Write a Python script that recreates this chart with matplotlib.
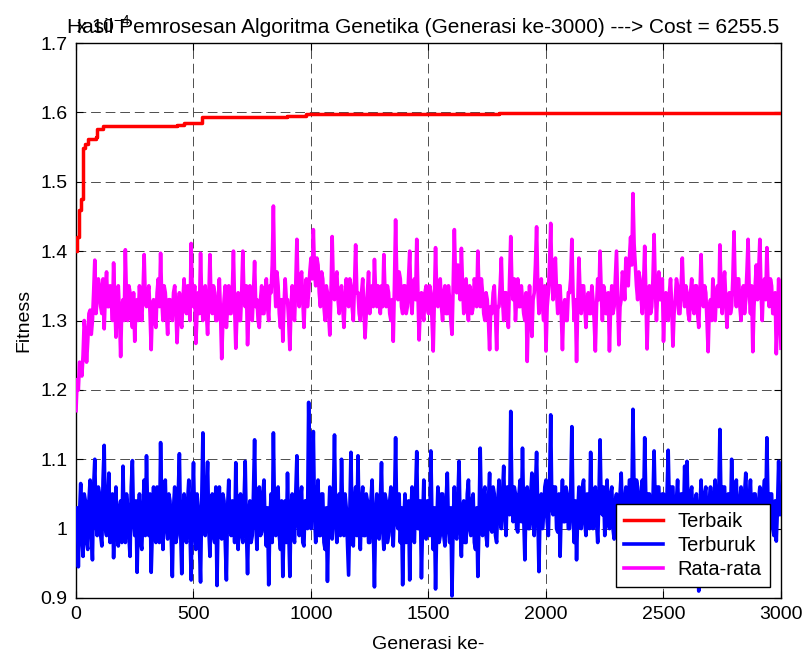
import matplotlib
matplotlib.use("Agg")
import matplotlib.pyplot as plt
import numpy as np

plt.rcParams["font.family"] = ["Liberation Sans", "DejaVu Sans"]
plt.rcParams["mathtext.default"] = "regular"

# Fitness values are in units of 1e-4
terbaik_gen = [0, 5, 12, 20, 30, 40, 50, 85, 90, 116, 430, 460, 535, 620, 900, 980, 1800, 3000]
terbaik = [1.400, 1.420, 1.460, 1.475, 1.548, 1.555, 1.561, 1.565, 1.576, 1.580,
           1.5815, 1.5845, 1.5935, 1.594, 1.595, 1.597, 1.5986, 1.5986]

# worst and average fitness, read every 5 generations (0..3000), one row = 100 generations
terburuk = [
    1.00, 1.03, 0.945, 1.02, 1.065, 0.99, 0.96, 1.05, 1.04, 0.98, 0.97, 1.04, 1.07, 1.00, 0.955, 1.06, 1.10, 1.01, 0.99, 1.06,
    1.05, 0.99, 0.975, 1.07, 1.12, 1.00, 0.99, 1.04, 1.08, 0.98, 1.00, 1.05, 0.958, 1.02, 1.06, 0.99, 0.975, 1.03, 1.04, 0.98,
    1.09, 1.00, 0.98, 1.05, 1.03, 0.99, 0.96, 1.06, 1.098, 1.01, 0.99, 1.04, 0.937, 1.02, 1.05, 0.98, 0.97, 1.03, 1.07, 0.99,
    1.105, 1.02, 0.99, 1.05, 0.937, 1.00, 1.06, 0.99, 0.98, 1.06, 1.03, 0.98, 1.124, 1.03, 0.97, 1.04, 1.07, 1.00, 0.985, 1.05,
    1.04, 0.99, 0.931, 1.03, 1.06, 0.98, 0.99, 1.05, 1.108, 1.00, 0.935, 1.02, 1.05, 0.99, 0.98, 1.04, 1.07, 1.00, 0.926, 1.03,
    1.095, 1.00, 0.97, 1.05, 1.03, 0.98, 0.923, 1.04, 1.138, 1.01, 0.99, 1.05, 1.096, 1.00, 0.96, 1.03, 1.05, 0.99, 0.98, 1.06,
    0.918, 1.02, 1.06, 0.99, 0.985, 1.05, 1.04, 0.98, 0.926, 1.03, 1.07, 1.00, 0.99, 1.04, 1.03, 0.98, 1.095, 1.01, 0.97, 1.04,
    1.05, 0.99, 0.98, 1.04, 1.097, 1.00, 0.935, 1.02, 1.04, 0.98, 0.99, 1.05, 1.128, 1.01, 0.97, 1.03, 1.06, 0.99, 0.995, 1.05,
    1.07, 1.00, 0.975, 1.03, 0.919, 1.01, 1.05, 0.98, 1.138, 1.02, 0.99, 1.05, 1.06, 0.99, 0.97, 1.04, 0.931, 1.00, 1.04, 0.98,
    1.08, 1.00, 0.931, 1.03, 1.05, 0.99, 0.98, 1.05, 1.105, 1.01, 0.99, 1.04, 1.06, 0.98, 0.975, 1.04, 1.04, 1.00, 1.182, 1.05,
    1.00, 1.06, 1.14, 1.02, 0.98, 1.04, 1.07, 0.99, 0.99, 1.05, 1.05, 0.98, 0.97, 1.03, 0.924, 1.01, 1.06, 0.99, 0.985, 1.04,
    1.135, 1.01, 0.98, 1.04, 1.05, 0.99, 1.10, 1.02, 0.99, 1.05, 1.03, 0.98, 0.933, 1.02, 1.11, 1.00, 0.975, 1.04, 1.06, 0.99,
    1.105, 1.00, 0.97, 1.04, 1.06, 0.99, 0.99, 1.05, 1.04, 0.98, 0.98, 1.04, 1.07, 1.00, 0.916, 1.02, 1.05, 0.99, 0.985, 1.04,
    1.095, 1.00, 0.97, 1.05, 1.04, 0.98, 0.99, 1.04, 1.06, 1.00, 0.975, 1.03, 1.131, 1.01, 1.00, 1.05, 0.98, 1.03, 0.919, 1.01,
    1.05, 0.98, 0.99, 1.04, 0.926, 1.02, 1.06, 0.99, 0.98, 1.05, 1.111, 1.00, 1.00, 1.04, 0.929, 1.01, 1.07, 0.99, 0.985, 1.04,
    1.04, 0.99, 1.112, 1.01, 0.97, 1.03, 0.913, 1.00, 1.06, 0.98, 0.99, 1.05, 1.05, 0.99, 0.975, 1.04, 1.08, 1.00, 0.98, 1.03,
    0.903, 1.01, 1.06, 0.99, 0.985, 1.04, 1.097, 1.00, 0.96, 1.03, 1.04, 0.98, 0.98, 1.05, 1.07, 1.00, 0.99, 1.04, 1.05, 0.98,
    0.97, 1.03, 0.931, 1.01, 1.116, 1.02, 0.99, 1.05, 1.06, 0.99, 0.975, 1.04, 1.08, 1.00, 0.995, 1.06, 1.05, 0.99, 0.98, 1.04,
    1.07, 1.01, 1.00, 1.05, 1.09, 1.02, 0.99, 1.06, 1.06, 1.02, 1.169, 1.04, 1.01, 1.06, 1.05, 1.00, 0.995, 1.05, 1.07, 1.01,
    1.116, 1.02, 0.955, 1.04, 1.06, 1.00, 1.00, 1.05, 1.08, 1.01, 0.99, 1.06, 1.11, 1.02, 0.938, 1.03, 1.05, 1.00, 1.02, 1.06,
    1.07, 1.01, 0.99, 1.06, 1.164, 1.03, 1.02, 1.06, 1.06, 1.00, 0.995, 1.05, 0.96, 1.03, 1.07, 1.01, 1.01, 1.06, 1.05, 1.00,
    1.00, 1.05, 1.147, 1.02, 0.98, 1.04, 0.955, 1.02, 1.06, 1.01, 1.00, 1.06, 1.07, 1.01, 0.99, 1.05, 1.04, 1.00, 1.11, 1.03,
    1.00, 1.05, 1.06, 1.01, 0.98, 1.04, 1.128, 1.03, 1.02, 1.06, 0.99, 1.04, 1.07, 1.01, 1.00, 1.05, 1.06, 1.00, 0.985, 1.04,
    1.05, 1.01, 1.00, 1.05, 1.08, 1.02, 0.99, 1.04, 1.06, 1.01, 1.02, 1.07, 1.07, 1.03, 1.172, 1.05, 1.03, 1.07, 1.06, 1.01,
    1.01, 1.05, 1.07, 1.02, 1.131, 1.04, 1.00, 1.05, 1.05, 1.01, 0.99, 1.04, 1.112, 1.03, 1.01, 1.06, 1.06, 1.01, 0.99, 1.05,
    1.05, 1.01, 1.00, 1.05, 1.113, 1.03, 1.02, 1.06, 1.06, 1.00, 0.985, 1.04, 1.07, 1.02, 1.00, 1.05, 1.05, 1.01, 1.09, 1.03,
    1.097, 1.02, 1.00, 1.05, 1.06, 1.01, 0.99, 1.04, 1.05, 1.00, 0.91, 1.03, 1.07, 1.01, 1.00, 1.05, 1.06, 1.01, 0.99, 1.04,
    1.06, 1.01, 1.00, 1.05, 1.07, 1.02, 0.99, 1.04, 1.143, 1.03, 1.02, 1.06, 1.06, 1.00, 0.995, 1.05, 1.05, 1.01, 1.10, 1.03,
    1.00, 1.05, 1.07, 1.01, 0.99, 1.04, 1.06, 1.01, 1.01, 1.05, 1.08, 1.02, 0.98, 1.04, 1.07, 1.01, 1.00, 1.05, 1.05, 1.00,
    0.99, 1.04, 1.06, 1.01, 1.01, 1.05, 1.07, 1.02, 1.131, 1.03, 1.00, 1.05, 1.05, 1.00, 0.99, 1.04, 0.982, 1.03, 1.097, 1.02,
    1.04,
]

rata_rata = [
    1.17, 1.215, 1.20, 1.24, 1.235, 1.22, 1.25, 1.30, 1.28, 1.24, 1.27, 1.31, 1.315, 1.28, 1.30, 1.34, 1.387, 1.31, 1.33, 1.36,
    1.35, 1.32, 1.31, 1.36, 1.288, 1.34, 1.37, 1.32, 1.32, 1.35, 1.34, 1.30, 1.383, 1.33, 1.276, 1.33, 1.35, 1.31, 1.248, 1.32,
    1.33, 1.30, 1.402, 1.33, 1.30, 1.35, 1.34, 1.31, 1.29, 1.34, 1.27, 1.32, 1.33, 1.30, 1.35, 1.32, 1.30, 1.34, 1.395, 1.33,
    1.32, 1.34, 1.35, 1.31, 1.258, 1.32, 1.33, 1.30, 1.29, 1.34, 1.36, 1.32, 1.397, 1.33, 1.30, 1.35, 1.34, 1.31, 1.28, 1.33,
    1.33, 1.31, 1.30, 1.34, 1.35, 1.32, 1.268, 1.31, 1.34, 1.30, 1.29, 1.33, 1.36, 1.32, 1.31, 1.35, 1.33, 1.30, 1.411, 1.34,
    1.32, 1.35, 1.267, 1.31, 1.34, 1.31, 1.397, 1.33, 1.30, 1.34, 1.35, 1.31, 1.28, 1.33, 1.395, 1.32, 1.31, 1.35, 1.34, 1.30,
    1.30, 1.33, 1.36, 1.31, 1.245, 1.30, 1.33, 1.35, 1.29, 1.32, 1.35, 1.31, 1.31, 1.34, 1.40, 1.32, 1.26, 1.31, 1.34, 1.30,
    1.30, 1.34, 1.40, 1.33, 1.32, 1.35, 1.265, 1.31, 1.35, 1.32, 1.30, 1.34, 1.385, 1.32, 1.33, 1.30, 1.29, 1.33, 1.35, 1.31,
    1.31, 1.34, 1.36, 1.32, 1.30, 1.35, 1.34, 1.38, 1.465, 1.36, 1.32, 1.37, 1.35, 1.31, 1.29, 1.33, 1.27, 1.32, 1.36, 1.33,
    1.33, 1.30, 1.258, 1.32, 1.35, 1.31, 1.30, 1.35, 1.417, 1.34, 1.32, 1.36, 1.37, 1.33, 1.29, 1.34, 1.36, 1.32, 1.34, 1.37,
    1.39, 1.36, 1.431, 1.37, 1.35, 1.39, 1.38, 1.34, 1.32, 1.37, 1.36, 1.32, 1.30, 1.35, 1.34, 1.31, 1.279, 1.34, 1.421, 1.35,
    1.33, 1.36, 1.37, 1.33, 1.31, 1.34, 1.35, 1.32, 1.29, 1.33, 1.36, 1.33, 1.32, 1.36, 1.35, 1.32, 1.30, 1.35, 1.409, 1.34,
    1.34, 1.31, 1.30, 1.34, 1.36, 1.32, 1.275, 1.31, 1.34, 1.37, 1.31, 1.34, 1.35, 1.32, 1.388, 1.34, 1.32, 1.35, 1.33, 1.31,
    1.35, 1.32, 1.395, 1.34, 1.32, 1.35, 1.34, 1.31, 1.30, 1.33, 1.27, 1.35, 1.445, 1.36, 1.33, 1.37, 1.36, 1.32, 1.31, 1.35,
    1.35, 1.31, 1.32, 1.36, 1.40, 1.33, 1.31, 1.35, 1.36, 1.33, 1.417, 1.34, 1.272, 1.32, 1.34, 1.31, 1.30, 1.34, 1.35, 1.32,
    1.31, 1.35, 1.34, 1.30, 1.256, 1.33, 1.405, 1.34, 1.32, 1.35, 1.36, 1.32, 1.30, 1.34, 1.35, 1.31, 1.31, 1.35, 1.33, 1.30,
    1.28, 1.35, 1.431, 1.36, 1.34, 1.38, 1.37, 1.33, 1.404, 1.35, 1.31, 1.34, 1.36, 1.32, 1.30, 1.35, 1.34, 1.31, 1.32, 1.36,
    1.35, 1.32, 1.40, 1.34, 1.32, 1.36, 1.34, 1.31, 1.30, 1.34, 1.33, 1.30, 1.258, 1.32, 1.31, 1.34, 1.35, 1.31, 1.258, 1.32,
    1.32, 1.35, 1.39, 1.33, 1.30, 1.34, 1.34, 1.31, 1.29, 1.36, 1.421, 1.35, 1.33, 1.36, 1.30, 1.33, 1.36, 1.32, 1.32, 1.35,
    1.33, 1.31, 1.30, 1.34, 1.241, 1.31, 1.35, 1.31, 1.277, 1.33, 1.34, 1.38, 1.435, 1.35, 1.31, 1.34, 1.36, 1.32, 1.30, 1.35,
    1.256, 1.32, 1.34, 1.38, 1.44, 1.36, 1.33, 1.37, 1.39, 1.34, 1.31, 1.35, 1.35, 1.31, 1.258, 1.32, 1.33, 1.30, 1.30, 1.34,
    1.34, 1.36, 1.417, 1.34, 1.30, 1.33, 1.241, 1.32, 1.39, 1.34, 1.31, 1.35, 1.35, 1.32, 1.29, 1.33, 1.34, 1.31, 1.31, 1.35,
    1.33, 1.30, 1.256, 1.32, 1.36, 1.33, 1.40, 1.34, 1.30, 1.35, 1.34, 1.31, 1.31, 1.34, 1.256, 1.32, 1.35, 1.31, 1.32, 1.36,
    1.40, 1.33, 1.265, 1.32, 1.33, 1.37, 1.36, 1.33, 1.39, 1.36, 1.35, 1.39, 1.42, 1.38, 1.483, 1.41, 1.38, 1.35, 1.33, 1.37,
    1.36, 1.33, 1.31, 1.35, 1.407, 1.34, 1.259, 1.32, 1.35, 1.31, 1.32, 1.36, 1.424, 1.35, 1.30, 1.34, 1.37, 1.33, 1.33, 1.36,
    1.27, 1.32, 1.34, 1.31, 1.30, 1.34, 1.36, 1.32, 1.263, 1.31, 1.33, 1.36, 1.35, 1.31, 1.31, 1.35, 1.39, 1.34, 1.32, 1.35,
    1.34, 1.31, 1.30, 1.34, 1.36, 1.32, 1.31, 1.35, 1.35, 1.31, 1.29, 1.34, 1.395, 1.33, 1.32, 1.35, 1.34, 1.30, 1.255, 1.32,
    1.33, 1.30, 1.36, 1.33, 1.30, 1.34, 1.35, 1.32, 1.409, 1.34, 1.31, 1.35, 1.37, 1.33, 1.29, 1.33, 1.34, 1.31, 1.32, 1.36,
    1.428, 1.35, 1.32, 1.36, 1.36, 1.32, 1.30, 1.34, 1.35, 1.31, 1.33, 1.37, 1.417, 1.34, 1.31, 1.35, 1.255, 1.32, 1.35, 1.38,
    1.33, 1.37, 1.417, 1.34, 1.30, 1.35, 1.36, 1.33, 1.405, 1.35, 1.32, 1.36, 1.35, 1.31, 1.31, 1.34, 1.252, 1.30, 1.36, 1.32,
    1.26,
]

generasi = np.arange(len(terburuk)) * 5

x_ticks = [0, 500, 1000, 1500, 2000, 2500, 3000]
y_ticks = [0.9, 1.0, 1.1, 1.2, 1.3, 1.4, 1.5, 1.6, 1.7]
y_labels = ["0.9", "1", "1.1", "1.2", "1.3", "1.4", "1.5", "1.6", "1.7"]

judul = "Hasil Pemrosesan Algoritma Genetika (Generasi ke-3000) ---> Cost = 6255.5"

fs = 14
fig = plt.figure(figsize=(8.04, 6.54), dpi=100)
ax = fig.add_axes([76 / 804, 1 - 598 / 654, 705 / 804, 555 / 654])

ax.plot(terbaik_gen, terbaik, color="#ff0000", lw=2.5, drawstyle="steps-post", label="Terbaik", zorder=3)
ax.plot(generasi, terburuk, color="#0000ff", lw=2.6, label="Terburuk", zorder=3)
ax.plot(generasi, rata_rata, color="#ff00ff", lw=2.6, label="Rata-rata", zorder=3)

ax.set_xlim(0, 3000)
ax.set_ylim(0.9, 1.7)
ax.set_xticks(x_ticks)
ax.set_xticklabels([str(t) for t in x_ticks])
ax.set_yticks(y_ticks)
ax.set_yticklabels(y_labels)
ax.tick_params(direction="in", length=5, width=0.8, labelsize=fs,
               top=True, right=True, pad=6)
ax.grid(True, color="0.3", linestyle=(0, (10, 5)), linewidth=0.7)
for s in ax.spines.values():
    s.set_linewidth(1.0)

ax.set_xlabel("Generasi ke-", fontsize=fs, labelpad=9)
ax.set_ylabel("Fitness", fontsize=fs, labelpad=6)
ax.set_title(judul, fontsize=15, pad=7, x=0.492)
ax.text(0.0, 1.012, r"x 10$^{-4}$", transform=ax.transAxes, ha="left", va="bottom", fontsize=fs)

leg = ax.legend(loc="lower right", fontsize=14.5, frameon=True, fancybox=False,
                framealpha=1, edgecolor="black", borderaxespad=0.55,
                labelspacing=0.25, handlelength=1.9, handletextpad=0.75, borderpad=0.4)
leg.get_frame().set_linewidth(1.0)

fig.savefig("out.png", dpi=100)
